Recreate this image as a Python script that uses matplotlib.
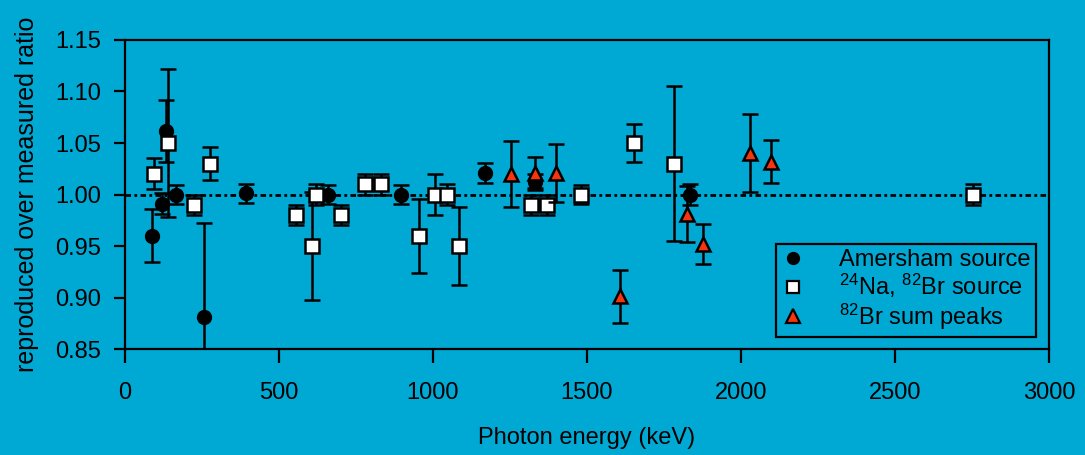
import matplotlib
matplotlib.use("Agg")
import matplotlib.pyplot as plt
from matplotlib.lines import Line2D

BG = "#00a8d4"
RED = "#f5350f"

# Amersham source
am_energy = [88, 120, 133, 166, 257, 393, 660, 897, 1170, 1332, 1836]
am_ratio = [0.960, 0.991, 1.062, 1.000, 0.881, 1.001, 1.000, 1.000, 1.021, 1.012, 1.000]
am_err = [0.026, 0.010, 0.030, 0.009, 0.091, 0.009, 0.009, 0.009, 0.010, 0.008, 0.010]

# 24Na, 82Br source
nb_energy = [94, 140, 224, 276, 555, 607, 620, 701, 780, 832, 955, 1007, 1046, 1085,
             1319, 1371, 1479, 1654, 1781, 2753]
nb_ratio = [1.020, 1.050, 0.990, 1.030, 0.980, 0.950, 1.000, 0.980, 1.010, 1.010, 0.960,
            1.000, 1.000, 0.950, 0.990, 0.990, 1.000, 1.050, 1.030, 1.000]
nb_err = [0.015, 0.072, 0.010, 0.016, 0.010, 0.052, 0.010, 0.010, 0.010, 0.010, 0.036,
          0.020, 0.010, 0.038, 0.010, 0.010, 0.009, 0.018, 0.075, 0.010]

# 82Br sum peaks
sp_energy = [1254, 1332, 1398, 1606, 1824, 1875, 2029, 2097]
sp_ratio = [1.020, 1.021, 1.021, 0.901, 0.981, 0.952, 1.040, 1.032]
sp_err = [0.032, 0.015, 0.028, 0.026, 0.027, 0.019, 0.038, 0.021]

plt.rcParams["font.family"] = ["Liberation Sans", "DejaVu Sans"]
plt.rcParams["mathtext.fontset"] = "custom"
plt.rcParams["mathtext.rm"] = "Liberation Sans"
plt.rcParams["mathtext.default"] = "regular"

FS = 17

fig = plt.figure(figsize=(10.85, 4.55), dpi=100, facecolor=BG)
ax = fig.add_axes([125 / 1085, 1 - 349 / 455, 924 / 1085, 309 / 455])
ax.set_facecolor(BG)

ax.axhline(1.0, color="black", lw=2, ls=(0, (2, 1.2, 1, 1.2)), zorder=1)

ekw = dict(ecolor="black", elinewidth=1.8, capsize=5.5, capthick=1.8, ls="none")
ax.errorbar(am_energy, am_ratio, yerr=am_err, fmt="o", ms=10, mfc="black",
            mec="black", zorder=3, **ekw)
ax.errorbar(nb_energy, nb_ratio, yerr=nb_err, fmt="s", ms=9.5, mfc="white",
            mec="black", mew=1.8, zorder=4, **ekw)
ax.errorbar(sp_energy, sp_ratio, yerr=sp_err, fmt="^", ms=10.5, mfc=RED,
            mec="black", mew=1.8, zorder=5, **ekw)

ax.set_xlim(0, 3000)
ax.set_ylim(0.85, 1.15)
ax.set_xticks(range(0, 3001, 500))
ax.set_yticks([0.85, 0.90, 0.95, 1.00, 1.05, 1.10, 1.15])
ax.set_yticklabels(["0.85", "0.90", "0.95", "1.00", "1.05", "1.10", "1.15"])
ax.tick_params(axis="x", direction="out", length=10, width=1.6, pad=14, labelsize=FS)
ax.tick_params(axis="y", direction="out", length=8, width=1.6, pad=9, labelsize=FS)
for s in ax.spines.values():
    s.set_linewidth(1.6)

ax.set_xlabel("Photon energy (keV)", fontsize=FS, labelpad=16)
ax.set_ylabel("reproduced over measured ratio", fontsize=18, labelpad=12)

handles = [
    Line2D([], [], ls="none", marker="o", ms=8.5, mfc="black", mec="black"),
    Line2D([], [], ls="none", marker="s", ms=8, mfc="white", mec="black", mew=1.6),
    Line2D([], [], ls="none", marker="^", ms=9.5, mfc=RED, mec="black", mew=1.6),
]
labels = ["Amersham source", "$^{24}$Na, $^{82}$Br source", "$^{82}$Br sum peaks"]
leg = ax.legend(handles, labels, loc="lower right", bbox_to_anchor=(0.986, 0.039),
                borderaxespad=0, fontsize=FS, frameon=True, fancybox=False,
                edgecolor="black", facecolor=BG, framealpha=1, labelspacing=0.05,
                handlelength=1.0, handletextpad=1.45, borderpad=0.22)
leg.get_frame().set_linewidth(1.6)

fig.savefig("out.png", dpi=100, facecolor=BG)
